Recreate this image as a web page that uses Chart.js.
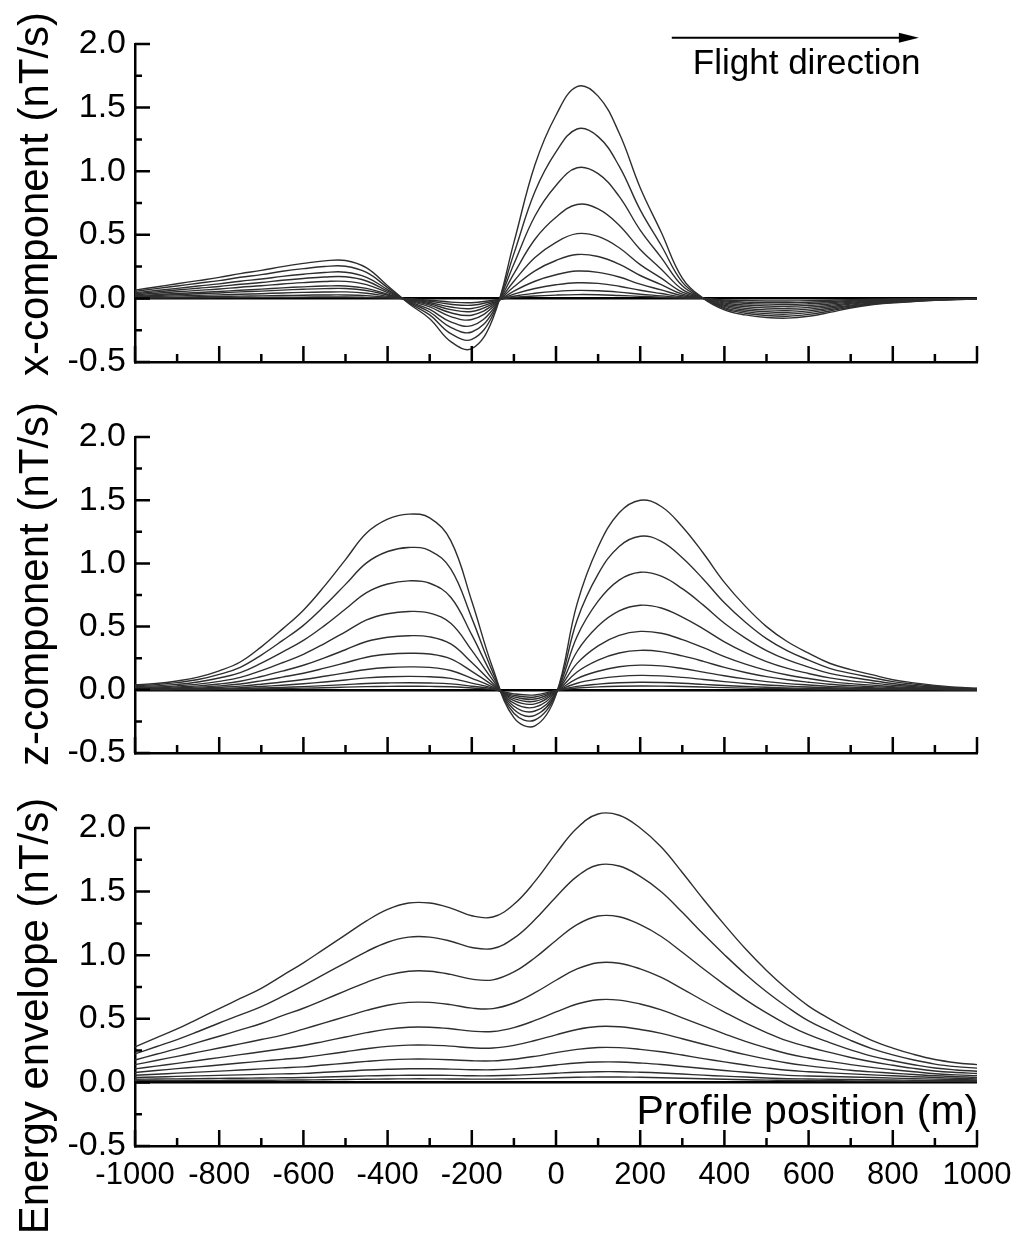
<!DOCTYPE html>
<html>
<head>
<meta charset="utf-8">
<script src="https://cdn.jsdelivr.net/npm/chart.js@4.4.1/dist/chart.umd.min.js"></script>
<style>
    body { margin: 0; background: #fff; }
    canvas { position: absolute; left: 0; }
</style>
</head>
<body>
<canvas id="graficoX" width="1016" height="400" style="top:0"></canvas>
<canvas id="graficoZ" width="1016" height="390" style="top:400px"></canvas>
<canvas id="graficoEnergia" width="1016" height="445" style="top:790px"></canvas>
<script>
// posicoes ao longo do perfil (m)
const posicoes = [-1000, -950, -900, -850, -800, -750, -700, -650, -600, -550, -500, -450, -400, -350, -300, -250, -200, -150, -100, -50,
    0, 50, 100, 150, 200, 250, 300, 350, 400, 450, 500, 550, 600, 650, 700, 750, 800, 850, 900, 950, 1000];

// componente x, um array por canal de tempo
const xc1 = [0.065,0.09,0.115,0.14,0.165,0.195,0.22,0.25,0.275,0.295,0.298,0.24,0.1,-0.04,-0.16,-0.34,-0.395,-0.16,0.44,1.05,1.44,1.665,1.59,1.3,0.87,0.52,0.16,0,-0.09,-0.13,-0.15,-0.155,-0.14,-0.11,-0.075,-0.05,-0.035,-0.025,-0.015,-0.01,-0.005];
const xc2 = [0.055,0.077,0.098,0.119,0.14,0.166,0.187,0.213,0.234,0.251,0.253,0.204,0.085,-0.033,-0.13,-0.277,-0.322,-0.13,0.352,0.84,1.152,1.332,1.272,1.04,0.696,0.416,0.128,0,-0.081,-0.117,-0.135,-0.14,-0.126,-0.099,-0.068,-0.045,-0.032,-0.023,-0.014,-0.009,-0.005];
const xc3 = [0.045,0.062,0.079,0.097,0.114,0.135,0.152,0.173,0.19,0.204,0.206,0.166,0.069,-0.027,-0.107,-0.227,-0.264,-0.107,0.271,0.648,0.888,1.027,0.981,0.802,0.537,0.321,0.099,0,-0.072,-0.104,-0.12,-0.124,-0.112,-0.088,-0.06,-0.04,-0.028,-0.02,-0.012,-0.008,-0.004];
const xc4 = [0.037,0.051,0.066,0.08,0.094,0.111,0.125,0.143,0.157,0.168,0.17,0.137,0.057,-0.022,-0.087,-0.185,-0.214,-0.087,0.195,0.465,0.638,0.738,0.704,0.576,0.385,0.23,0.071,0,-0.063,-0.091,-0.105,-0.109,-0.098,-0.077,-0.053,-0.035,-0.025,-0.018,-0.011,-0.007,-0.004];
const xc5 = [0.029,0.041,0.052,0.063,0.074,0.088,0.099,0.113,0.124,0.133,0.134,0.108,0.045,-0.017,-0.067,-0.143,-0.166,-0.067,0.135,0.321,0.441,0.509,0.487,0.398,0.266,0.159,0.049,0,-0.054,-0.078,-0.09,-0.093,-0.084,-0.066,-0.045,-0.03,-0.021,-0.015,-0.009,-0.006,-0.003];
const xc6 = [0.021,0.03,0.038,0.046,0.054,0.064,0.073,0.083,0.091,0.097,0.098,0.079,0.033,-0.013,-0.053,-0.113,-0.132,-0.053,0.091,0.217,0.298,0.345,0.329,0.269,0.18,0.108,0.033,0,-0.045,-0.065,-0.075,-0.078,-0.07,-0.055,-0.038,-0.025,-0.018,-0.013,-0.008,-0.005,-0.003];
const xc7 = [0.017,0.023,0.03,0.036,0.043,0.051,0.057,0.065,0.072,0.077,0.078,0.062,0.026,-0.01,-0.042,-0.088,-0.103,-0.042,0.057,0.135,0.186,0.215,0.205,0.168,0.112,0.067,0.021,0,-0.036,-0.052,-0.06,-0.062,-0.056,-0.044,-0.03,-0.02,-0.014,-0.01,-0.006,-0.004,-0.002];
const xc8 = [0.011,0.015,0.02,0.024,0.028,0.033,0.037,0.043,0.047,0.05,0.051,0.041,0.017,-0.008,-0.032,-0.068,-0.079,-0.032,0.033,0.078,0.107,0.123,0.118,0.096,0.064,0.038,0.012,0,-0.027,-0.039,-0.045,-0.047,-0.042,-0.033,-0.023,-0.015,-0.011,-0.008,-0.005,-0.003,-0.002];
const xc9 = [0.006,0.008,0.01,0.013,0.015,0.018,0.02,0.023,0.025,0.027,0.027,0.022,0.009,-0.005,-0.022,-0.046,-0.054,-0.022,0.017,0.04,0.055,0.063,0.06,0.049,0.033,0.02,0.006,0,-0.02,-0.029,-0.033,-0.034,-0.031,-0.024,-0.017,-0.011,-0.008,-0.006,-0.003,-0.002,-0.001];
const xc10 = [0.002,0.003,0.004,0.005,0.006,0.007,0.008,0.009,0.01,0.011,0.011,0.008,0.004,-0.003,-0.014,-0.029,-0.034,-0.014,0.008,0.019,0.026,0.03,0.029,0.023,0.016,0.009,0.003,0,-0.012,-0.017,-0.02,-0.02,-0.018,-0.014,-0.01,-0.007,-0.005,-0.003,-0.002,-0.001,-0.001];

// componente z
const zc1 = [0.04,0.05,0.07,0.1,0.15,0.22,0.34,0.48,0.63,0.82,1.03,1.24,1.35,1.39,1.36,1.18,0.7,0.17,-0.22,-0.285,-0.04,0.68,1.13,1.4,1.5,1.45,1.29,1.08,0.85,0.66,0.5,0.38,0.29,0.21,0.16,0.12,0.08,0.055,0.035,0.02,0.012];
const zc2 = [0.032,0.041,0.057,0.081,0.122,0.178,0.275,0.389,0.51,0.664,0.834,1.004,1.094,1.126,1.102,0.956,0.567,0.138,-0.185,-0.239,-0.034,0.551,0.915,1.134,1.215,1.175,1.045,0.875,0.689,0.535,0.405,0.308,0.235,0.17,0.13,0.097,0.065,0.045,0.028,0.016,0.01];
const zc3 = [0.025,0.031,0.043,0.062,0.093,0.136,0.211,0.298,0.391,0.508,0.639,0.769,0.837,0.862,0.843,0.732,0.434,0.105,-0.156,-0.202,-0.028,0.422,0.701,0.868,0.93,0.899,0.8,0.67,0.527,0.409,0.31,0.236,0.18,0.13,0.099,0.074,0.05,0.034,0.022,0.012,0.007];
const zc4 = [0.018,0.022,0.031,0.045,0.067,0.098,0.152,0.214,0.281,0.366,0.459,0.553,0.602,0.62,0.607,0.526,0.312,0.076,-0.13,-0.168,-0.024,0.303,0.504,0.624,0.669,0.647,0.575,0.482,0.379,0.294,0.223,0.169,0.129,0.094,0.071,0.054,0.036,0.025,0.016,0.009,0.005];
const zc5 = [0.012,0.015,0.022,0.031,0.046,0.068,0.105,0.148,0.194,0.253,0.317,0.382,0.416,0.428,0.419,0.363,0.216,0.052,-0.106,-0.137,-0.019,0.209,0.348,0.431,0.462,0.447,0.397,0.333,0.262,0.203,0.154,0.117,0.089,0.065,0.049,0.037,0.025,0.017,0.011,0.006,0.004];
const zc6 = [0.008,0.01,0.015,0.021,0.031,0.046,0.071,0.1,0.131,0.171,0.214,0.258,0.281,0.289,0.283,0.245,0.146,0.035,-0.086,-0.111,-0.016,0.141,0.235,0.291,0.312,0.302,0.268,0.225,0.177,0.137,0.104,0.079,0.06,0.044,0.033,0.025,0.017,0.011,0.007,0.004,0.002];
const zc7 = [0.005,0.007,0.009,0.013,0.02,0.029,0.044,0.062,0.082,0.107,0.134,0.161,0.176,0.181,0.177,0.153,0.091,0.022,-0.07,-0.091,-0.013,0.088,0.147,0.182,0.195,0.189,0.168,0.14,0.111,0.086,0.065,0.049,0.038,0.027,0.021,0.016,0.01,0.007,0.005,0.003,0.002];
const zc8 = [0.003,0.004,0.005,0.008,0.011,0.017,0.026,0.036,0.048,0.062,0.078,0.094,0.103,0.106,0.103,0.09,0.053,0.013,-0.056,-0.073,-0.01,0.052,0.086,0.106,0.114,0.11,0.098,0.082,0.065,0.05,0.038,0.029,0.022,0.016,0.012,0.009,0.006,0.004,0.003,0.002,0.001];
const zc9 = [0.002,0.002,0.003,0.004,0.006,0.009,0.014,0.019,0.025,0.033,0.041,0.05,0.054,0.056,0.054,0.047,0.028,0.007,-0.044,-0.057,-0.008,0.027,0.045,0.056,0.06,0.058,0.052,0.043,0.034,0.026,0.02,0.015,0.012,0.008,0.006,0.005,0.003,0.002,0.001,0.001,0];
const zc10 = [0.001,0.001,0.001,0.002,0.003,0.004,0.007,0.01,0.013,0.016,0.021,0.025,0.027,0.028,0.027,0.024,0.014,0.003,-0.032,-0.041,-0.006,0.014,0.023,0.028,0.03,0.029,0.026,0.022,0.017,0.013,0.01,0.008,0.006,0.004,0.003,0.002,0.002,0.001,0.001,0,0];

// envelope de energia
const ee1 = [0.28,0.35,0.42,0.5,0.58,0.66,0.74,0.84,0.94,1.05,1.16,1.27,1.36,1.41,1.41,1.37,1.31,1.3,1.4,1.58,1.8,2,2.11,2.1,2,1.85,1.65,1.44,1.24,1.05,0.88,0.73,0.6,0.5,0.41,0.33,0.27,0.22,0.18,0.155,0.14];
const ee2 = [0.224,0.28,0.336,0.4,0.467,0.531,0.596,0.676,0.761,0.851,0.94,1.029,1.102,1.142,1.142,1.11,1.061,1.053,1.134,1.28,1.458,1.62,1.709,1.701,1.62,1.499,1.337,1.166,1.004,0.851,0.713,0.591,0.483,0.403,0.33,0.266,0.216,0.176,0.144,0.124,0.112];
const ee3 = [0.176,0.221,0.265,0.315,0.363,0.413,0.463,0.525,0.583,0.651,0.719,0.787,0.843,0.874,0.874,0.849,0.812,0.806,0.868,0.98,1.116,1.24,1.308,1.302,1.24,1.147,1.023,0.893,0.769,0.651,0.546,0.453,0.375,0.313,0.256,0.206,0.17,0.139,0.113,0.098,0.088];
const ee4 = [0.14,0.172,0.205,0.238,0.27,0.303,0.337,0.372,0.419,0.468,0.517,0.566,0.607,0.629,0.629,0.611,0.584,0.58,0.624,0.705,0.803,0.892,0.941,0.937,0.892,0.825,0.736,0.642,0.553,0.468,0.392,0.326,0.278,0.236,0.196,0.162,0.135,0.11,0.09,0.078,0.07];
const ee5 = [0.106,0.128,0.15,0.172,0.195,0.218,0.241,0.265,0.29,0.323,0.357,0.391,0.419,0.434,0.434,0.422,0.403,0.4,0.431,0.487,0.554,0.616,0.65,0.647,0.616,0.57,0.508,0.444,0.382,0.323,0.271,0.225,0.192,0.165,0.14,0.118,0.1,0.084,0.068,0.059,0.053];
const ee6 = [0.078,0.093,0.108,0.122,0.137,0.152,0.167,0.181,0.196,0.218,0.241,0.264,0.283,0.293,0.293,0.285,0.272,0.27,0.291,0.329,0.374,0.416,0.439,0.437,0.416,0.385,0.343,0.3,0.258,0.218,0.183,0.152,0.13,0.112,0.096,0.083,0.072,0.062,0.052,0.045,0.039];
const ee7 = [0.056,0.064,0.073,0.081,0.089,0.097,0.106,0.114,0.122,0.137,0.151,0.165,0.177,0.183,0.183,0.178,0.17,0.169,0.182,0.205,0.234,0.26,0.274,0.273,0.26,0.241,0.215,0.187,0.161,0.137,0.114,0.095,0.084,0.075,0.067,0.059,0.052,0.045,0.039,0.033,0.028];
const ee8 = [0.039,0.043,0.047,0.051,0.055,0.059,0.063,0.067,0.071,0.08,0.088,0.097,0.103,0.107,0.107,0.104,0.1,0.099,0.106,0.12,0.137,0.152,0.16,0.16,0.152,0.141,0.125,0.109,0.094,0.08,0.067,0.055,0.05,0.046,0.042,0.038,0.034,0.03,0.026,0.023,0.02];
const ee9 = [0.025,0.027,0.028,0.03,0.032,0.033,0.035,0.036,0.038,0.042,0.046,0.051,0.054,0.056,0.056,0.055,0.052,0.052,0.056,0.063,0.072,0.08,0.084,0.084,0.08,0.074,0.066,0.057,0.049,0.042,0.035,0.029,0.027,0.025,0.023,0.021,0.019,0.017,0.015,0.014,0.013];
const ee10 = [0.014,0.015,0.015,0.016,0.016,0.017,0.017,0.018,0.019,0.021,0.023,0.025,0.027,0.028,0.028,0.027,0.026,0.026,0.028,0.032,0.036,0.04,0.042,0.042,0.04,0.037,0.033,0.029,0.025,0.021,0.018,0.015,0.014,0.013,0.012,0.011,0.01,0.009,0.009,0.008,0.007];

const fonte = '"Liberation Sans", Arial, Helvetica, sans-serif';
Chart.defaults.font.family = fonte;
Chart.defaults.color = '#000';

function montaSerie(valores) {
    return {
        data: posicoes.map((p, i) => ({ x: p, y: valores[i] })),
        borderColor: '#2e2e2e',
        borderWidth: 1.4,
        pointRadius: 0,
        tension: 0.4,
        clip: false,
        fill: false
    };
}

// marcas de escala para dentro, titulo vertical e notas de texto
const decoracao = {
    id: 'decoracao',
    afterDraw(chart, args, opts) {
        const { ctx, chartArea, scales: { x, y } } = chart;
        ctx.save();
        ctx.strokeStyle = '#000';
        ctx.lineWidth = 2.5;
        ctx.beginPath();
        for (let i = 0; i <= 20; i++) {
            const px = x.getPixelForValue(-1000 + i * 100);
            const tam = i % 2 === 0 ? 16 : 8;
            ctx.moveTo(px, chartArea.bottom);
            ctx.lineTo(px, chartArea.bottom - tam);
        }
        for (let i = 0; i <= 10; i++) {
            const py = y.getPixelForValue(-0.5 + i * 0.25);
            const tam = i % 2 === 0 ? 15 : 7;
            ctx.moveTo(chartArea.left, py);
            ctx.lineTo(chartArea.left + tam, py);
        }
        ctx.stroke();

        ctx.fillStyle = '#000';
        (opts.notas || []).forEach(n => {
            ctx.font = n.tamanho + 'px ' + fonte;
            ctx.textAlign = n.alinha;
            ctx.textBaseline = 'middle';
            ctx.fillText(n.texto, x.getPixelForValue(n.x), y.getPixelForValue(n.y));
        });

        if (opts.seta) {
            const s = opts.seta;
            const x0 = x.getPixelForValue(s.de);
            const x1 = x.getPixelForValue(s.ate);
            const py = y.getPixelForValue(s.y);
            ctx.lineWidth = 2;
            ctx.beginPath();
            ctx.moveTo(x0, py);
            ctx.lineTo(x1 - 14, py);
            ctx.stroke();
            ctx.beginPath();
            ctx.moveTo(x1, py);
            ctx.lineTo(x1 - 20, py - 5);
            ctx.lineTo(x1 - 20, py + 5);
            ctx.closePath();
            ctx.fill();
        }

        ctx.font = '42px ' + fonte;
        ctx.translate(opts.tituloX, opts.tituloY);
        ctx.rotate(-Math.PI / 2);
        ctx.textAlign = 'center';
        ctx.textBaseline = 'middle';
        ctx.fillText(opts.titulo, 0, 0);
        ctx.restore();
    }
};

function opcoes(cfg) {
    return {
        responsive: false,
        animation: false,
        layout: { padding: { top: cfg.topo, right: 39, left: 0, bottom: 0 } },
        plugins: {
            legend: { display: false },
            tooltip: { enabled: false },
            decoracao: cfg.decoracao
        },
        scales: {
            x: {
                type: 'linear',
                min: -1000,
                max: 1000,
                border: { display: true, color: '#000', width: 2.5 },
                grid: { display: false, drawTicks: false },
                ticks: {
                    display: cfg.rotulosX,
                    stepSize: 200,
                    padding: 11,
                    maxRotation: 0,
                    autoSkip: false,
                    font: { size: 31 },
                    callback: v => String(v)
                },
                afterFit(escala) {
                    escala.height = cfg.alturaX;
                    // os rotulos das pontas podem sair da area; a margem direita fica fixa
                    escala.paddingLeft = 0;
                    escala.paddingRight = 0;
                }
            },
            y: {
                min: -0.5,
                max: 2,
                border: { display: true, color: '#000', width: 2.5 },
                grid: {
                    drawTicks: false,
                    lineWidth: 2.5,
                    color: c => c.tick && c.tick.value === 0 ? '#000' : 'rgba(0,0,0,0)'
                },
                ticks: {
                    stepSize: 0.5,
                    padding: 9,
                    font: { size: 34 },
                    callback: v => v.toFixed(1)
                },
                afterFit(escala) { escala.width = 135; }
            }
        }
    };
}

const graficoX = new Chart(document.getElementById('graficoX'), {
    type: 'line',
    data: { datasets: [xc1, xc2, xc3, xc4, xc5, xc6, xc7, xc8, xc9, xc10].map(montaSerie) },
    options: opcoes({
        topo: 44,
        alturaX: 38,
        rotulosX: false,
        decoracao: {
            titulo: 'x-component (nT/s)', tituloX: 36, tituloY: 194,
            seta: { de: 275, ate: 862, y: 2.05 },
            notas: [{ texto: 'Flight direction', x: 325, y: 1.84, tamanho: 35, alinha: 'left' }]
        }
    }),
    plugins: [decoracao]
});

const graficoZ = new Chart(document.getElementById('graficoZ'), {
    type: 'line',
    data: { datasets: [zc1, zc2, zc3, zc4, zc5, zc6, zc7, zc8, zc9, zc10].map(montaSerie) },
    options: opcoes({
        topo: 37,
        alturaX: 37,
        rotulosX: false,
        decoracao: { titulo: 'z-component (nT/s)', tituloX: 36, tituloY: 184 }
    }),
    plugins: [decoracao]
});

const graficoEnergia = new Chart(document.getElementById('graficoEnergia'), {
    type: 'line',
    data: { datasets: [ee1, ee2, ee3, ee4, ee5, ee6, ee7, ee8, ee9, ee10].map(montaSerie) },
    options: opcoes({
        topo: 38,
        alturaX: 89,
        rotulosX: true,
        decoracao: {
            titulo: 'Energy envelope (nT/s)', tituloX: 36, tituloY: 226,
            notas: [{ texto: 'Profile position (m)', x: 1003, y: -0.24, tamanho: 41, alinha: 'right' }]
        }
    }),
    plugins: [decoracao]
});
</script>
</body>
</html>
